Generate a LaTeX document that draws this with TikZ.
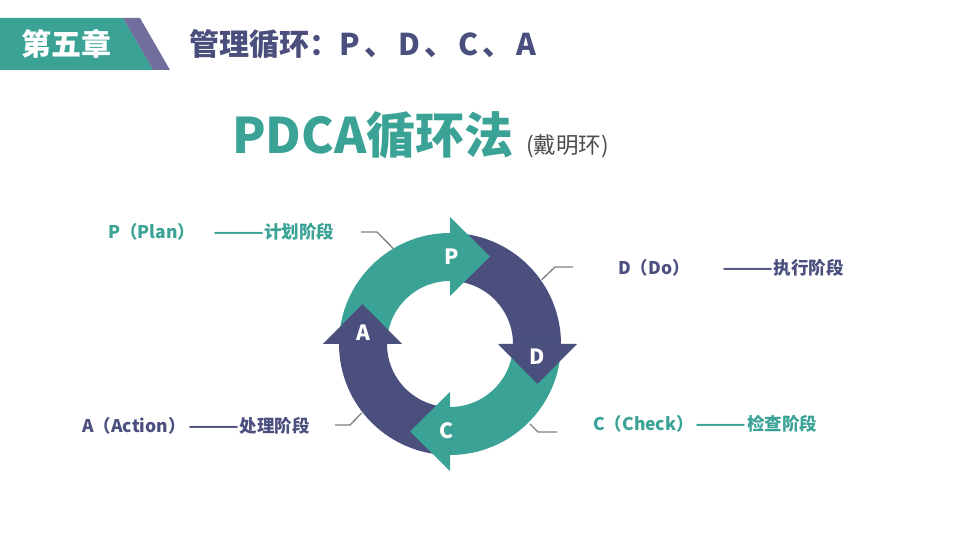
\documentclass[tikz,border=0pt]{standalone}
\usepackage{fontspec}
\setmainfont{Noto Sans CJK SC}
\usetikzlibrary{calc}
\definecolor{pdcateal}{HTML}{3AA396}
\definecolor{pdcanavy}{HTML}{4A4F7D}
\definecolor{hdrpurple}{HTML}{6F6E9C}
\definecolor{leadgray}{HTML}{7F7F7F}
\newcommand{\dash}{\scalebox{1.7}[1]{——}}
\newcommand{\sep}{\hspace{4.5pt}、\hspace{3.5pt}}

\begin{document}
\begin{tikzpicture}[x=1pt,y=1pt,
  phase/.style={anchor=west, inner sep=0pt, font=\bfseries\fontsize{17.5}{20}\selectfont},
  lead/.style={draw=leadgray, line width=1.3pt},
  letter/.style={text=white, inner sep=0pt, font=\bfseries\fontsize{21}{24}\selectfont}
]
  \useasboundingbox[fill=white] (0,0) rectangle (960,540);

  % header bar
  \fill[pdcateal] (0,522) -- (123,522) -- (153,470) -- (0,470) -- cycle;
  \fill[hdrpurple] (123,522) -- (140,522) -- (170,470) -- (153,470) -- cycle;
  \node[text=white, font=\bfseries\fontsize{30}{34}\selectfont] (chap) at (66,496) {第五章};
  \node[anchor=west, text=pdcanavy, font=\bfseries\fontsize{30}{34}\selectfont] (title) at (186,496)
    {管理循环：P\sep D\sep C\sep A};

  \node[anchor=west, inner sep=0pt, text=pdcateal, font=\bfseries\fontsize{49}{52}\selectfont] (pdca) at (232,405) {PDCA循环法};
  \node[anchor=west, inner sep=0pt, text=black!70, font=\fontsize{22.5}{26}\selectfont] (deming) at (526,394) {(戴明环)};

  % ring: four bands, then the four heads on top
  \coordinate (ctr) at (450,196);
  \foreach \ang/\col in {90/pdcateal, 0/pdcanavy, -90/pdcateal, 180/pdcanavy}
    \fill[\col] ($(ctr)+({\ang+90}:111)$) arc[start angle=\ang+90, end angle=\ang, radius=111]
      -- ($(ctr)+(\ang:63)$) arc[start angle=\ang, end angle=\ang+90, radius=63] -- cycle;
  \foreach \ang/\col/\lab/\off in {90/pdcateal/P/2, 0/pdcanavy/D/13, -90/pdcateal/C/4, 180/pdcanavy/A/11}{
    \fill[\col] ($(ctr)+(\ang:48)$) -- ($(ctr)+(\ang:127)$) -- ($(ctr)+(\ang:87.5)+({\ang-90}:40)$) -- cycle;
    \node[letter] (head\lab) at ($(ctr)+(\ang:87)+({\ang-90}:\off)$) {\lab};
  }

  % phase labels
  \node[phase, text=pdcateal] (planlbl) at (108,308) {P（Plan）\hspace{18pt}\dash 计划阶段};
  \node[phase, text=pdcanavy] (dolbl) at (618,272) {D（Do）\hspace{33pt}\dash 执行阶段};
  \node[phase, text=pdcanavy] (actlbl) at (82,114) {A（Action）\hspace{3pt}\dash 处理阶段};
  \node[phase, text=pdcateal] (chklbl) at (593,116) {C（Check）\hspace{2pt}\dash 检查阶段};

  % leader lines
  \coordinate (planring) at ($(ctr)+(120.7:111)$);
  \coordinate (doring) at ($(ctr)+(35:112)$);
  \coordinate (chkring) at ($(ctr)+(-45:113)$);
  \coordinate (actring) at ($(ctr)+(218:112)$);
  \coordinate (plantail) at (361,308);
  \coordinate (dotail) at (573,273);
  \coordinate (chktail) at (557,108);
  \coordinate (acttail) at (335,115);
  \draw[lead] (plantail) -- ++(16,0) -- (planring);
  \draw[lead] (dotail) -- ++(-18,0) -- (doring);
  \draw[lead] (chkring) -- ($(chktail)+(-19,0)$) -- (chktail);
  \draw[lead] (acttail) -- ++(15,0) -- (actring);
\end{tikzpicture}
\end{document}
